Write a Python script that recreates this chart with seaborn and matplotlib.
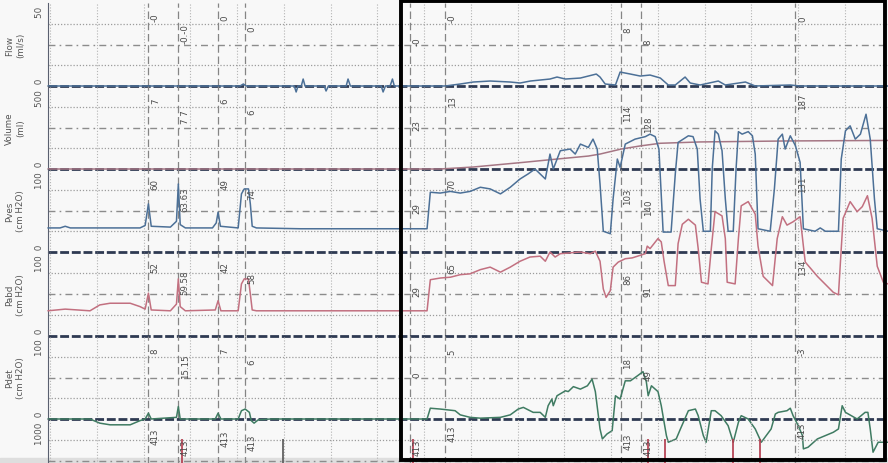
import numpy as np
import pandas as pd
import matplotlib
matplotlib.use("Agg")
import matplotlib.pyplot as plt
import matplotlib.transforms as mtransforms
from matplotlib.patches import Rectangle
import seaborn as sns

sns.set_style("white")
plt.rcParams['font.family'] = ['DejaVu Sans']

# ---------------- data (time in s, values in channel units) ----------------
channel_names = ["Flow\n(ml/s)", "Volume\n(ml)", "Pves\n(cm H2O)", "Pabd\n(cm H2O)", "Pdet\n(cm H2O)", ""]
channel_tops = [50, 500, 100, 100, 100, 1000]

flow_trace = [(-0.5, 0), (40.6, 0), (41.3, 1.2), (41.9, 0), (52.2, 0), (52.6, -3.6), (53.0, 0), (53.7, 0),
              (54.1, 4.2), (54.5, 0), (58.6, 0), (59.0, -3), (59.5, 0), (63.3, 0), (63.7, 4.2), (64.2, 0),
              (70.8, 0), (71.2, -3.6), (71.7, 0), (72.7, 0), (73.2, 4.2), (73.6, 0), (84.5, 0), (87.7, 1.2),
              (90.5, 2.4), (94.1, 3.0), (98.4, 2.4), (100.5, 1.8), (102.7, 3.0), (106.9, 4.2), (108.4, 5.4),
              (110.2, 4.2), (113.4, 4.8), (115.1, 6.0), (116.8, 7.2), (117.6, 5.4), (118.7, 1.2), (120.9, 0.6),
              (121.9, 8.4), (124.1, 7.2), (126.2, 6.0), (128.3, 6.6), (130.5, 4.8), (132.2, 0.6), (133.7, 0.6),
              (135.8, 5.4), (136.9, 1.8), (139.0, 0.6), (142.9, 3.0), (144.4, 0.6), (148.7, 2.4), (150.8, 0),
              (158.3, 0.6), (160.4, 0), (179.2, 0)]

volume_trace = [(-0.5, 0), (83.4, 0), (90.5, 12), (101.2, 40), (108.4, 60), (115.1, 78), (117.6, 90),
                (122.1, 120), (126.2, 139), (130.5, 155), (139.0, 163), (157.9, 169), (179.2, 172)]

pves_trace = [(-0.5, 29), (2.1, 29), (3.2, 31), (4.3, 29), (19.2, 29), (20.3, 32), (21.0, 58), (21.6, 31),
              (25.7, 30), (27.0, 37), (27.4, 82), (27.8, 33), (28.9, 29), (34.7, 29), (35.5, 35), (35.9, 48),
              (36.4, 31), (40.2, 29), (40.9, 70), (41.5, 76), (42.4, 76), (42.8, 58), (43.2, 31), (44.1, 29),
              (53.5, 28), (80.6, 28), (81.3, 72), (83.4, 71), (85.6, 73), (87.7, 71), (89.8, 73), (92.0, 78),
              (94.1, 76), (96.3, 70), (98.4, 78), (100.5, 88), (102.2, 94), (103.7, 100), (104.8, 94),
              (105.9, 88), (106.9, 118), (107.6, 100), (109.1, 122), (111.2, 124), (112.3, 118), (113.4, 130),
              (115.1, 126), (116.1, 136), (117.0, 124), (117.6, 82), (118.3, 25), (119.8, 22), (120.4, 64),
              (121.3, 112), (121.9, 102), (123.0, 130), (125.1, 136), (127.3, 139), (128.3, 142), (129.4, 139),
              (130.2, 124), (131.1, 24), (132.8, 24), (133.7, 94), (134.3, 132), (136.5, 140), (137.5, 139),
              (138.4, 124), (139.0, 64), (139.7, 25), (141.2, 25), (141.6, 100), (142.2, 146), (142.9, 142),
              (143.7, 122), (144.4, 64), (145.0, 25), (146.1, 25), (146.7, 100), (147.2, 145), (148.0, 142),
              (149.3, 145), (150.2, 140), (150.8, 118), (151.4, 28), (154.0, 25), (154.9, 76), (155.7, 136),
              (156.6, 142), (157.2, 124), (158.3, 140), (159.4, 128), (160.4, 108), (161.1, 28), (163.6, 25),
              (164.7, 29), (165.8, 25), (168.6, 25), (169.2, 112), (170.1, 146), (171.1, 152), (172.2, 136),
              (173.3, 142), (174.5, 166), (175.4, 136), (176.3, 64), (176.9, 28), (179.2, 25)]

pabd_trace = [(-0.5, 30), (3.2, 32), (8.5, 30), (10.6, 37), (12.8, 39), (17.1, 39), (19.2, 35), (20.3, 32),
              (21.0, 51), (21.6, 31), (25.7, 30), (27.0, 38), (27.4, 68), (27.8, 35), (28.9, 30), (35.3, 31),
              (35.9, 42), (36.5, 30), (40.2, 30), (40.9, 62), (41.5, 68), (42.4, 68), (42.8, 50), (43.2, 31),
              (44.1, 30), (80.6, 30), (81.3, 67), (83.4, 69), (85.6, 70), (87.7, 73), (89.8, 74), (92.0, 79),
              (94.1, 82), (96.3, 76), (98.4, 82), (100.5, 89), (102.6, 94), (104.8, 95), (105.9, 89),
              (106.9, 100), (108.0, 94), (109.1, 98), (111.2, 99), (113.4, 100), (115.5, 98), (116.6, 101),
              (117.6, 89), (118.3, 56), (118.9, 46), (119.8, 54), (120.4, 82), (121.5, 88), (123.0, 92),
              (124.5, 93), (127.3, 98), (127.7, 107), (128.3, 104), (130.0, 116), (130.7, 112), (131.3, 89),
              (132.2, 60), (133.7, 60), (134.3, 110), (135.2, 133), (136.5, 139), (138.0, 132), (138.6, 104),
              (139.3, 64), (140.7, 62), (141.4, 104), (142.2, 148), (143.7, 143), (144.4, 116), (144.8, 64),
              (146.5, 62), (147.2, 116), (147.8, 155), (149.3, 160), (150.2, 151), (150.8, 145), (151.4, 107),
              (152.5, 71), (154.5, 60), (155.5, 116), (156.6, 142), (157.6, 132), (158.9, 136), (160.4, 142),
              (161.1, 107), (161.5, 88), (164.1, 71), (167.5, 52), (168.6, 49), (169.2, 104), (169.6, 140),
              (171.1, 160), (172.6, 148), (173.7, 154), (174.8, 167), (175.8, 140), (176.9, 83), (178.2, 64),
              (179.2, 62)]

pdet_trace = [(-0.5, 0), (8.5, 0), (10.6, -5), (12.8, -7), (17.1, -7), (19.2, -2), (20.3, 0), (21.0, 7),
              (21.6, 0), (27.0, 2), (27.4, 15), (27.8, 0), (35.3, 0), (35.9, 7), (36.5, 0), (40.2, 0),
              (40.9, 10), (41.7, 12), (42.6, 8), (43.0, -2), (43.6, -5), (44.5, -1), (47.1, 0), (80.6, 0),
              (81.3, 13), (83.4, 12), (86.6, 10), (87.7, 5), (89.8, 2), (92.0, 1), (96.3, 2), (98.4, 5),
              (100.1, 12), (101.2, 14), (103.3, 8), (104.8, 8), (105.9, 2), (106.5, 16), (107.3, 24),
              (107.6, 16), (108.4, 28), (110.2, 34), (110.8, 33), (111.9, 39), (113.4, 36), (114.9, 40),
              (115.9, 48), (116.6, 33), (117.6, -12), (118.1, -24), (119.1, -18), (120.2, -14), (120.9, 28),
              (121.9, 24), (123.0, 46), (124.1, 46), (125.6, 52), (126.8, 57), (127.5, 45), (127.9, 28),
              (128.6, 40), (130.0, 33), (130.7, 16), (131.8, -20), (132.2, -28), (133.9, -24), (134.8, -12),
              (136.5, 10), (138.0, 12), (138.6, 4), (139.7, -20), (140.3, -28), (141.4, 10), (142.2, 10),
              (143.5, 4), (145.0, -8), (146.1, -28), (147.2, -4), (147.8, 4), (149.3, 0), (150.8, -12),
              (152.1, -28), (154.2, -12), (155.1, 6), (155.7, 8), (157.6, 10), (158.3, 13), (158.9, 4),
              (160.0, -8), (160.9, -20), (161.1, -36), (162.1, -34), (164.1, -24), (167.5, -16), (168.6, -12),
              (169.4, 16), (170.1, 8), (172.6, 0), (174.3, 8), (174.9, 8), (175.4, -12), (176.0, -40),
              (177.1, -28), (179.2, -28)]

event_times = [21.0, 27.4, 35.9, 41.7, 77.0, 84.5, 122.1, 126.4, 159.4]
event_flow = ["-0", "-0.-0", "0", "0", "-0", "-0", "8", "8", "0"]
event_volume = ["7", "7 7", "6", "6", "23", "13", "114", "128", "187"]
event_pves = ["60", "63.63", "49", "74", "29", "70", "103", "140", "131"]
event_pabd = ["52", "59.58", "42", "58", "29", "65", "86", "91", "134"]
event_pdet = ["8", "15.15", "7", "6", "0", "5", "18", "49", "-3"]
event_ch6 = ["413"] * 9

mark_times_red = [28.2, 77.6, 127.9, 131.5, 146.1, 151.9]
mark_times_dark = [49.8]

highlight_window = (75.0, 178.6)

# ---------------- style / layout ----------------
W, H = 888, 464
bounds_px = [4, 87, 170, 253, 337, 420, 503]
left_frac = 48 / W
xlim = (-0.48, 179.2)
label_drop = [0.17, 0.36, 0.17, 0.30, 0.46, 0.18, 0.32, 0.46, 0.18]
label_drop_last = [0.20, 0.33, 0.22, 0.28, 0.34, 0.16, 0.26, 0.34, 0.13]

c_blue = "#4c7097"
c_pink = "#c27080"
c_green = "#3f7b62"
c_vol = "#a57684"
c_sep = "#2e3a52"
c_txt = "#4a4a4a"

fig = plt.figure(figsize=(W / 100, H / 100), dpi=100)
fig.patch.set_facecolor("#f8f8f8")

traces = [
    [(flow_trace, c_blue)],
    [(volume_trace, c_vol)],
    [(pves_trace, c_blue)],
    [(pabd_trace, c_pink)],
    [(pdet_trace, c_green)],
    [],
]
event_labels = [event_flow, event_volume, event_pves, event_pabd, event_pdet, event_ch6]

axes = []
n_ch = len(channel_tops)
for i, top in enumerate(channel_tops):
    tp, bp = bounds_px[i], bounds_px[i + 1]
    ax = fig.add_axes([left_frac, 1 - bp / H, 1 - left_frac, (bp - tp) / H])
    ax.set_facecolor("none")
    ax.set_xlim(*xlim)
    ax.set_ylim(0, top)
    for s in ["top", "right", "bottom"]:
        ax.spines[s].set_visible(False)
    ax.spines["left"].set_color("#5a6070")
    ax.spines["left"].set_linewidth(0.8)

    # vertical grid
    ax.set_xticks(np.arange(0, 180, 10))
    ax.tick_params(axis="x", length=0, labelbottom=False)
    ax.grid(axis="x", color="#b4b4b4", linestyle=(0, (1, 1.6)), linewidth=0.8)
    ax.grid(axis="y", visible=False)

    # y ticks
    ticks = np.linspace(0, top, 9)
    labels = [""] * 9
    if i < n_ch - 1:
        labels[0] = " 0"
    labels[-1] = f"{top} "
    ax.set_yticks(ticks)
    ax.set_yticklabels(labels, rotation=90, fontsize=6.3, color="#555555")
    tl = ax.get_yticklabels()
    tl[0].set_va("bottom")
    tl[-1].set_va("top")
    ax.tick_params(axis="y", direction="inout", length=3, width=0.6, color="#5a6070", pad=1.5)

    # horizontal grid
    for fr in (0.25, 0.75):
        ax.axhline(top * fr, color="#9c9c9c", linestyle=(0, (1, 1.5)), linewidth=0.9, zorder=1)
    ax.axhline(top * 0.5, color="#8c8c8c", linestyle=(0, (5, 3, 1.2, 3)), linewidth=1.0, zorder=1)
    ax.axhline(0, color=c_sep, linestyle=(0, (3.2, 1.0)), linewidth=2.0, zorder=2, clip_on=False)

    # event markers
    for t in event_times:
        ax.axvline(t, color="#858585", linestyle=(0, (6, 3)), linewidth=0.9, zorder=1.5)

    # traces
    for data, col in traces[i]:
        df = pd.DataFrame(data, columns=["t", "v"])
        sns.lineplot(data=df, x="t", y="v", ax=ax, color=col, linewidth=1.1,
                     estimator=None, sort=False, zorder=3)
        for ln in ax.get_lines()[-1:]:
            ln.set_clip_on(False)
    ax.set_xlabel("")
    ax.set_ylabel("")

    # event annotations
    drops = label_drop_last if i == n_ch - 1 else label_drop
    for t, lab, dr in zip(event_times, event_labels[i], drops):
        ax.annotate(lab, xy=(t, 1 - dr), xycoords=("data", "axes fraction"),
                    xytext=(5, 0), textcoords="offset points", rotation=90,
                    ha="center", va="center", fontsize=6.2, color=c_txt, zorder=4,
                    annotation_clip=False)

    # channel names
    if channel_names[i]:
        ax.text(-33 / (W - 48), 0.5, channel_names[i], transform=ax.transAxes, rotation=90,
                ha="center", va="center", fontsize=6.3, color="#555555", linespacing=1.3)
    axes.append(ax)

# marks in the lowest channel
ax6 = axes[-1]
ax6.vlines(mark_times_red, 450, 760, color="#b2384a", linewidth=1.2, zorder=3)
ax6.vlines(mark_times_dark, 450, 760, color="#555555", linewidth=1.2, zorder=3)

# bottom strip of the scan
fig.add_artist(Rectangle((0, 0), 1, 5 / H, transform=fig.transFigure, color="#dedede", zorder=0))

# highlight box
trans = mtransforms.blended_transform_factory(axes[0].transData, fig.transFigure)
box = Rectangle((highlight_window[0], 3 / H), highlight_window[1] - highlight_window[0], 1 - 5 / H,
                transform=trans, fill=False, edgecolor="black", linewidth=2.8, zorder=10, clip_on=False)
fig.add_artist(box)

fig.savefig("out.png", dpi=100, facecolor=fig.get_facecolor())
